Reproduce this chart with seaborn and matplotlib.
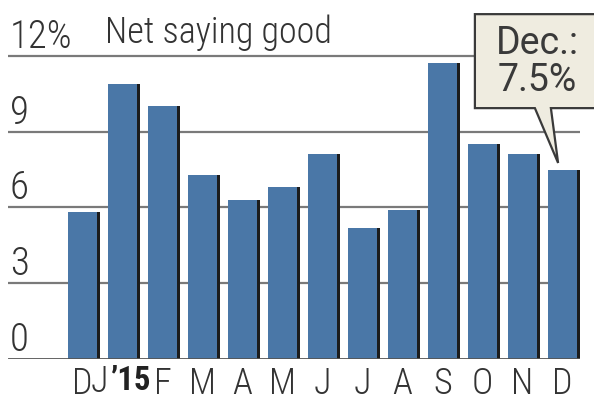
import matplotlib
matplotlib.use("Agg")
import matplotlib.pyplot as plt
import matplotlib.patheffects as pe
from matplotlib import font_manager as fm
from matplotlib.patches import Polygon
from matplotlib.transforms import ScaledTranslation, blended_transform_factory
import seaborn as sns
import pandas as pd

# ---- data ----
months = ["D", "J’15", "F", "M", "A", "M", "J", "J", "A", "S", "O", "N", "D"]
values = [5.8, 10.9, 10.0, 7.3, 6.3, 6.8, 8.1, 5.2, 5.9, 11.7, 8.5, 8.1, 7.5]
yticks = [0, 3, 6, 9, 12]
ytick_labels = ["0", "3", "6", "9", "12%"]
title = "Net saying good"
callout_lines = ["Dec.:", "7.5%"]

sns.set_theme(style="white")
available = {f.name for f in fm.fontManager.ttflist}
cond = next((f for f in ["Roboto Condensed", "Liberation Sans Narrow", "DejaVu Sans"]
             if f in available), "DejaVu Sans")
plt.rcParams["font.family"] = [cond, "DejaVu Sans"]

W, H, DPI = 594, 403, 100
fig = plt.figure(figsize=(W / DPI, H / DPI), dpi=DPI)
fig.patch.set_facecolor("white")
ax = fig.add_axes([8 / W, 44 / H, 572 / W, 359 / H])
ax.set_facecolor("none")

df = pd.DataFrame({"pos": list(range(len(values))), "value": values})
sns.barplot(data=df, x="pos", y="value", color="#4a77a7", saturation=1,
            width=0.73, ax=ax, zorder=2)
for p in ax.patches:
    p.set_edgecolor("none")
    p.set_path_effects([pe.SimplePatchShadow(offset=(2.4, 0), shadow_rgbFace="#1c1c1c", alpha=1.0),
                        pe.Normal()])

ax.set_xlim(-1.8625, 12.4375)
ax.set_ylim(0, 14.21)
for s in ax.spines.values():
    s.set_visible(False)
ax.set_xlabel("")
ax.set_ylabel("")

# gridlines
for y in yticks:
    if y == 0:
        ax.axhline(y, color="#555555", lw=2.0, zorder=3)
    else:
        ax.axhline(y, color="#7a7a7a", lw=1.6, zorder=1)

FS = 28
XFS = 26
TXT = "#333333"
ax.set_yticks([])
ax.set_xticks(range(len(months)))
ax.set_xticklabels([m if "’" not in m else "" for m in months], fontsize=XFS,
                   color=TXT, fontweight="light")
ax.tick_params(axis="x", length=0, pad=5)

# J'15 label in two weights
jidx = [i for i, m in enumerate(months) if "’" in m][0]
base, yr = months[jidx].split("’")
tr = ax.get_xaxis_transform()
ax.text(jidx, 0, base, transform=tr + ScaledTranslation(-0.14, -0.05, fig.dpi_scale_trans),
        ha="right", va="top", fontsize=XFS, color=TXT, fontweight="light")
ax.text(jidx, 0, "’" + yr, transform=tr + ScaledTranslation(-0.115, -0.06, fig.dpi_scale_trans),
        ha="left", va="top", fontsize=23.5, color="#222222", fontweight="bold")

# y labels above gridlines
bt = blended_transform_factory(ax.transAxes, ax.transData)
for t, lab in zip(yticks, ytick_labels):
    ax.text(0, t, lab, transform=bt + ScaledTranslation(0.02, 0.08, fig.dpi_scale_trans),
            ha="left", va="baseline", fontsize=FS, color=TXT, fontweight="light")

ax.text((105 - 8) / 572, yticks[-1], title,
        transform=bt + ScaledTranslation(0, 0.13, fig.dpi_scale_trans),
        ha="left", va="baseline", fontsize=26, color=TXT, fontweight="light")

# callout for last bar
li = len(values) - 1
tip_x, tip_y = li - 0.11, values[li] + 0.26
bl, br = li - 2.19, li + 1.6
bb, btop = values[li] + 2.43, values[li] + 6.15
t1, t2 = li - 0.69, li - 0.29
poly = Polygon([(bl, btop), (br, btop), (br, bb), (t2, bb), (tip_x, tip_y), (t1, bb), (bl, bb)],
               closed=True, facecolor="#efece0", edgecolor="#3a3a3a", lw=1.6,
               clip_on=False, zorder=5, joinstyle="miter")
ax.add_patch(poly)
ax.text(li - 0.62, values[li] + 4.25, "\n".join(callout_lines), ha="center", va="center",
        fontsize=27, family=["Roboto", "DejaVu Sans"], fontweight="normal", color="#3a3a3a",
        linespacing=1.0, zorder=6, clip_on=False)

fig.savefig("out.png", dpi=DPI)
